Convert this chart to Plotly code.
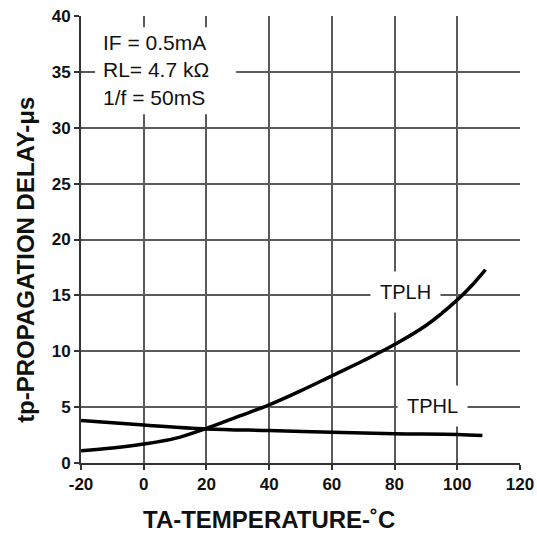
import plotly.graph_objects as go

temp_plh = [-20, -10, 0, 10, 20, 30, 40, 50, 60, 70, 80, 90, 100, 105, 109]
tplh = [1.1, 1.35, 1.7, 2.2, 3.1, 4.15, 5.2, 6.45, 7.8, 9.15, 10.6, 12.3, 14.6, 16.0, 17.3]
temp_phl = [-20, 0, 20, 40, 60, 80, 100, 108]
tphl = [3.8, 3.4, 3.05, 2.9, 2.75, 2.62, 2.55, 2.45]

x_ticks = [-20, 0, 20, 40, 60, 80, 100, 120]
y_ticks = [0, 5, 10, 15, 20, 25, 30, 35, 40]

FONT = "Liberation Sans, Arial"

fig = go.Figure()
fig.add_trace(go.Scatter(x=temp_plh, y=tplh, mode="lines", line=dict(color="black", width=3.5, shape="spline"), showlegend=False))
fig.add_trace(go.Scatter(x=temp_phl, y=tphl, mode="lines", line=dict(color="black", width=3.5, shape="spline"), showlegend=False))

# white box behind the condition text
fig.add_shape(type="rect", xref="x", yref="y", x0=-15.5, x1=29.5, y0=31.2, y1=39.0,
              fillcolor="white", line=dict(width=0), layer="above")
fig.add_annotation(x=-13.5, y=35.2, xref="x", yref="y", text="IF = 0.5mA<br>RL= 4.7 kΩ<br>1/f = 50mS",
                   showarrow=False, align="left", xanchor="left", yanchor="middle",
                   font=dict(family=FONT, size=21, color="#111"))
fig.add_annotation(x=83.4, y=15.3, text="TPLH", showarrow=False,
                   font=dict(family=FONT, size=20, color="#111"),
                   bgcolor="white", borderpad=9)
fig.add_annotation(x=92, y=5.1, text="TPHL", showarrow=False,
                   font=dict(family=FONT, size=20, color="#111"),
                   bgcolor="white", borderpad=9)

# axis titles (placed as in the reference)
fig.add_annotation(x=0.428, y=-0.1275, xref="paper", yref="paper", text="TA-TEMPERATURE-˚C",
                   showarrow=False, xanchor="center", yanchor="middle",
                   font=dict(family=FONT, size=24, color="#111", weight="bold"))
fig.add_annotation(x=-0.128, y=0.454, xref="paper", yref="paper", text="tp-PROPAGATION DELAY-μs",
                   showarrow=False, xanchor="center", yanchor="middle", textangle=-90,
                   font=dict(family=FONT, size=24, color="#111", weight="bold"))

axis_common = dict(showgrid=True, gridcolor="#5a5a5a", gridwidth=1.6, zeroline=False,
                   showline=True, linecolor="#333", linewidth=2, ticks="outside",
                   ticklen=5, tickcolor="#333", tickwidth=1.5, automargin=False,
                   ticklabeloverflow="allow",
                   tickfont=dict(family=FONT, size=17, color="#111", weight="bold"))

fig.update_xaxes(range=[-20, 120], tickvals=x_ticks, ticktext=[str(v) for v in x_ticks], **axis_common)
fig.update_yaxes(range=[0, 40], tickvals=y_ticks, ticktext=[str(v) for v in y_ticks], **axis_common)

fig.update_layout(width=537, height=536, margin=dict(l=81, r=17, t=16, b=73),
                  plot_bgcolor="white", paper_bgcolor="white")

fig.write_html("out.html", config={"displayModeBar": False},
               post_script="document.body.style.margin='0';document.body.style.overflow='hidden';")
